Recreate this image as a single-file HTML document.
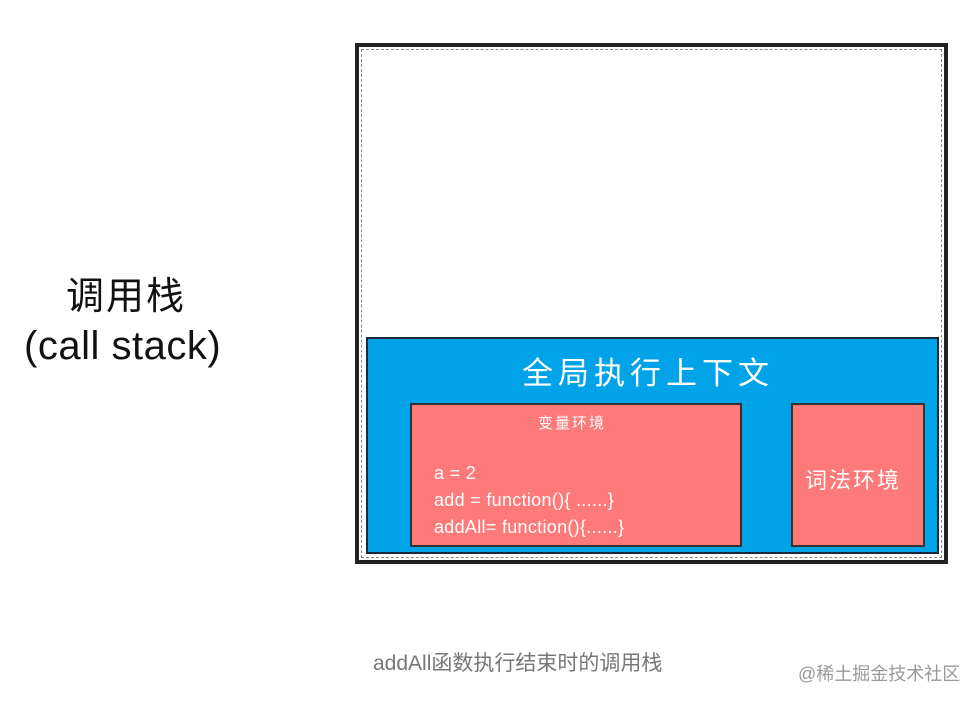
<!DOCTYPE html>
<html><head><meta charset="utf-8"><style>
body{margin:0;width:980px;height:702px;background:#fff;position:relative;overflow:hidden;font-family:"Liberation Sans","Noto Sans CJK SC",sans-serif}
div{position:absolute;box-sizing:border-box}
.t{white-space:nowrap}
</style></head><body>
<div class="t" style="left:66px;top:265px;font-size:38px;color:#111;letter-spacing:2px">调用栈</div>
<div class="t" style="left:24px;top:324px;font-size:40px;color:#111;letter-spacing:0.5px">(call stack)</div>
<div style="left:355px;top:43px;width:593px;height:521px;border:4px solid #222;outline:1px dashed #888;outline-offset:-7px"></div>
<div style="left:366px;top:337px;width:573px;height:217px;background:#00a3e8;border:2px solid #1a2a3a"></div>
<div class="t" style="left:522px;top:348px;font-size:31px;color:#fff;letter-spacing:5px">全局执行上下文</div>
<div style="left:410px;top:403px;width:332px;height:144px;background:#fd7a78;border:2px solid #333"></div>
<div class="t" style="left:538px;top:412px;font-size:15px;color:#fff;letter-spacing:2px">变量环境</div>
<div class="t" style="left:434px;top:460px;font-size:18px;color:#fff;line-height:27px;letter-spacing:0.3px">a = 2<br>add = function(){ ......}<br>addAll= function(){......}</div>
<div style="left:791px;top:403px;width:134px;height:144px;background:#fd7a78;border:2px solid #333"></div>
<div class="t" style="left:805px;top:463px;font-size:22px;color:#fff;letter-spacing:2px">词法环境</div>
<div class="t" style="left:373px;top:647px;font-size:21px;color:#777">addAll函数执行结束时的调用栈</div>
<div class="t" style="left:798px;top:660px;font-size:18px;color:#999">@稀土掘金技术社区</div>
</body></html>
